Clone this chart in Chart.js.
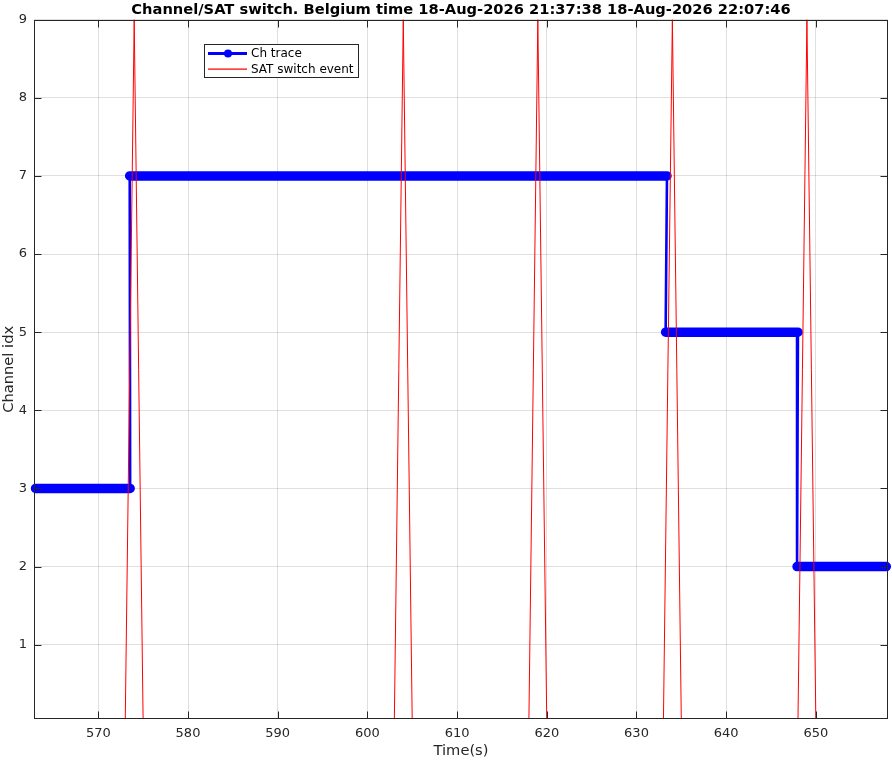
<!DOCTYPE html>
<html>
<head>
<meta charset="utf-8">
<title>Channel/SAT switch</title>
<script src="https://cdn.jsdelivr.net/npm/chart.js@4/dist/chart.umd.min.js"></script>
<style>
  html, body { margin: 0; padding: 0; background: #fff; }
  #caja { width: 892px; height: 760px; }
</style>
</head>
<body>
<div id="caja"><canvas id="grafico"></canvas></div>
<script>
// DATOS:

const titulo = "Channel/SAT switch. Belgium time 18-Aug-2026 21:37:38 18-Aug-2026 22:07:46";

// tramos del canal: nivel, tiempo de inicio y de fin
const canalNivel  = [3, 7, 5, 2];
const canalInicio = [563.0, 573.5, 633.25, 647.9];
const canalFin    = [573.55, 633.4, 648.0, 657.85];

// eventos de cambio de SAT
const satTiempo = [573, 574, 575, 603, 604, 605, 618, 619, 620, 633, 634, 635, 648, 649, 650];
const satValor  = [0, 9, 0, 0, 9, 0, 0, 9, 0, 0, 9, 0, 0, 9, 0];

const ticksX = [570, 580, 590, 600, 610, 620, 630, 640, 650];
const ticksY = [1, 2, 3, 4, 5, 6, 7, 8, 9];
const limiteX = [562.83, 658.04];
const limiteY = [0.05, 9];

// PUNTOS:

const lineaCanal = [];
const bandaCanal = [];
canalNivel.forEach((nivel, i) => {
    lineaCanal.push({x: canalInicio[i], y: nivel}, {x: canalFin[i], y: nivel});
    bandaCanal.push({x: canalInicio[i], y: nivel}, {x: canalFin[i], y: nivel}, {x: canalFin[i], y: null});
});
const puntosSat = satTiempo.map((t, i) => ({x: t, y: satValor[i]}));

const FUENTE = "'DejaVu Sans', sans-serif";
const GRIS = '#262626';
const AZUL = '#0000ff';
const ROJO = '#ff0000';

// marco, ticks hacia dentro y leyenda
const marco = {
    id: 'marco',
    afterDraw(chart) {
        const ctx = chart.ctx;
        const a = chart.chartArea;
        const sx = chart.scales.x, sy = chart.scales.y;
        const L = Math.round(a.left) + 0.5, R = Math.round(a.right) - 0.5;
        const T = Math.round(a.top) + 0.5, B = Math.round(a.bottom) - 0.5;

        ctx.save();
        ctx.strokeStyle = GRIS;
        ctx.lineWidth = 1;
        ctx.beginPath();
        ticksX.forEach(v => {
            const px = Math.round(sx.getPixelForValue(v)) + 0.5;
            ctx.moveTo(px, B); ctx.lineTo(px, B - 7);
            ctx.moveTo(px, T); ctx.lineTo(px, T + 7);
        });
        ticksY.forEach(v => {
            const py = Math.round(sy.getPixelForValue(v)) + 0.5;
            ctx.moveTo(L, py); ctx.lineTo(L + 7, py);
            ctx.moveTo(R, py); ctx.lineTo(R - 7, py);
        });
        ctx.stroke();
        ctx.strokeRect(L, T, R - L, B - T);

        // leyenda
        const cx = 204.5, cy = 44.5, cw = 154, ch = 33;
        ctx.fillStyle = '#fff';
        ctx.fillRect(cx, cy, cw, ch);
        ctx.strokeStyle = GRIS;
        ctx.strokeRect(cx, cy, cw, ch);

        const ds = chart.data.datasets;
        ctx.font = '12px ' + FUENTE;
        ctx.textBaseline = 'middle';
        ctx.textAlign = 'left';

        // Ch trace
        ctx.strokeStyle = AZUL;
        ctx.lineWidth = 3;
        ctx.beginPath();
        ctx.moveTo(208, 53.5); ctx.lineTo(247, 53.5);
        ctx.stroke();
        ctx.fillStyle = AZUL;
        ctx.beginPath();
        ctx.arc(228, 53.5, 4, 0, Math.PI * 2);
        ctx.fill();
        ctx.fillStyle = '#000';
        ctx.fillText(ds[1].label, 251, 53.5);

        // SAT switch event
        ctx.strokeStyle = ROJO;
        ctx.lineWidth = 1.2;
        ctx.beginPath();
        ctx.moveTo(208, 69.2); ctx.lineTo(247, 69.2);
        ctx.stroke();
        ctx.fillStyle = '#000';
        ctx.fillText(ds[0].label, 251, 69.5);
        ctx.restore();
    }
};

new Chart(document.getElementById('grafico'), {
    type: 'line',
    data: {
        datasets: [
            {
                label: 'SAT switch event',
                data: puntosSat,
                borderColor: ROJO,
                borderWidth: 1,
                pointRadius: 0,
                order: 0
            },
            {
                label: 'Ch trace',
                data: lineaCanal,
                borderColor: AZUL,
                borderWidth: 2.6,
                pointRadius: 0,
                order: 1
            },
            {
                label: 'banda',
                data: bandaCanal,
                borderColor: AZUL,
                borderWidth: 9.5,
                borderCapStyle: 'round',
                borderJoinStyle: 'round',
                pointRadius: 0,
                spanGaps: false,
                clip: false,
                order: 2
            }
        ]
    },
    options: {
        responsive: true,
        maintainAspectRatio: false,
        animation: false,
        layout: { padding: { left: 0, right: 4, top: 0, bottom: 0 } },
        plugins: {
            legend: { display: false },
            tooltip: { enabled: false },
            title: {
                display: true,
                text: titulo,
                fullSize: false,
                color: '#000',
                font: { family: FUENTE, size: 14.67, weight: 'bold', lineHeight: 1.2 },
                padding: { top: 1, bottom: 1 }
            }
        },
        scales: {
            x: {
                type: 'linear',
                min: limiteX[0],
                max: limiteX[1],
                afterBuildTicks: s => { s.ticks = ticksX.map(v => ({value: v})); },
                afterFit: s => { s.height = 41; },
                grid: { color: 'rgba(38,38,38,0.15)', drawTicks: false },
                border: { display: false },
                ticks: {
                    color: GRIS,
                    padding: 7,
                    maxRotation: 0,
                    font: { family: FUENTE, size: 13 }
                },
                title: {
                    display: true,
                    text: 'Time(s)',
                    color: GRIS,
                    padding: 0,
                    font: { family: FUENTE, size: 14.67, lineHeight: 1.2 }
                }
            },
            y: {
                type: 'linear',
                min: limiteY[0],
                max: limiteY[1],
                afterBuildTicks: s => { s.ticks = ticksY.map(v => ({value: v})); },
                afterFit: s => { s.width = 34; },
                grid: { color: 'rgba(38,38,38,0.15)', drawTicks: false },
                border: { display: false },
                ticks: {
                    color: GRIS,
                    padding: 7,
                    font: { family: FUENTE, size: 13 }
                },
                title: {
                    display: true,
                    text: 'Channel idx',
                    color: GRIS,
                    padding: 0,
                    font: { family: FUENTE, size: 14.67, lineHeight: 1.2 }
                }
            }
        }
    },
    plugins: [marco]
});
</script>
</body>
</html>
